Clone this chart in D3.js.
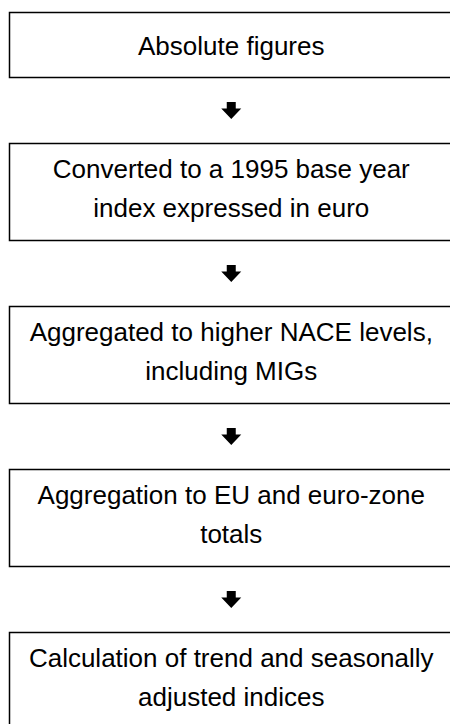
<!DOCTYPE html>
<html>
<head>
<meta charset="utf-8">
<script src="https://cdn.jsdelivr.net/npm/d3@7"></script>
<style>
  body { margin: 0; background: #fff; }
</style>
</head>
<body>
<div id="flow"></div>
<script>
  // steps of the flow, top to bottom
  const steps = [
    ["Absolute figures"],
    ["Converted to a 1995 base year", "index expressed in euro"],
    ["Aggregated to higher NACE levels,", "including MIGs"],
    ["Aggregation to EU and euro-zone", "totals"],
    ["Calculation of trend and seasonally", "adjusted indices"]
  ];

  const width = 450, height = 724;
  const boxLeft = 9.5, boxRight = 453;
  const firstH = 65, boxH = 97, gap = 66, startY = 12.5;
  const fontSize = 26, lineH = 39;

  const svg = d3.select("#flow").append("svg")
    .attr("width", width)
    .attr("height", height)
    .style("display", "block");

  // cumulative layout
  let y = startY;
  const boxes = steps.map((lines, i) => {
    const h = i === 0 ? firstH : boxH;
    const b = { lines, y0: y, y1: y + h };
    y += h + gap;
    return b;
  });

  const cx = (boxLeft + boxRight) / 2;

  const g = svg.append("g");

  g.selectAll("rect")
    .data(boxes)
    .join("rect")
      .attr("x", boxLeft)
      .attr("y", d => d.y0)
      .attr("width", boxRight - boxLeft)
      .attr("height", d => d.y1 - d.y0)
      .attr("fill", "none")
      .attr("stroke", "#000")
      .attr("stroke-width", 1.5);

  g.selectAll("text")
    .data(boxes)
    .join("text")
      .attr("text-anchor", "middle")
      .style("font", `${fontSize}px "Liberation Sans", Arial, sans-serif`)
      .attr("fill", "#000")
      .each(function(d) {
        const n = d.lines.length;
        const mid = (d.y0 + d.y1) / 2;
        const first = mid - (n - 1) * lineH / 2 + 9.5 - 4.5 * (n - 1);
        d3.select(this).selectAll("tspan")
          .data(d.lines)
          .join("tspan")
            .attr("x", cx)
            .attr("y", (l, j) => first + j * lineH)
            .text(l => l);
      });

  // bold down arrows between boxes
  const arrowPath = "M-4.5,-8.5 L4.5,-8.5 L4.5,-2 L10,-2 L0,8.5 L-10,-2 L-4.5,-2 Z";
  g.selectAll("path.arrow")
    .data(boxes.slice(1))
    .join("path")
      .attr("class", "arrow")
      .attr("d", arrowPath)
      .attr("fill", "#000")
      .attr("transform", d => `translate(${cx},${d.y0 - gap / 2})`);
</script>
</body>
</html>
